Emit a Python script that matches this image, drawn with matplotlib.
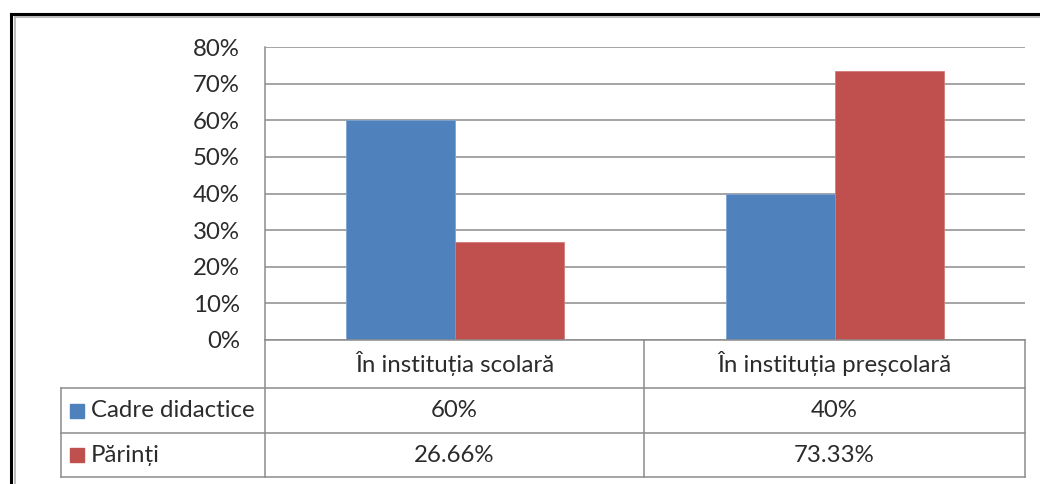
import matplotlib.pyplot as plt
import numpy as np
from matplotlib.lines import Line2D

plt.rcParams['font.family'] = ['Lato', 'DejaVu Sans']

categories = ["În instituția scolară", "În instituția preșcolară"]
series_names = ["Cadre didactice", "Părinți"]
cadre = [60, 40]
parinti = [26.66, 73.33]
cadre_labels = ["60%", "40%"]
parinti_labels = ["26.66%", "73.33%"]
y_ticks = [0, 10, 20, 30, 40, 50, 60, 70, 80]

blue = '#4F81BD'
red = '#C0504D'
grid = '#8c8c8c'
txt = '#2b2b2b'
fs = 17.3

W, H = 1040, 484
fig = plt.figure(figsize=(W / 100, H / 100), dpi=100)

# pixel helpers
def fx(px):
    return px / W

def fy(py):
    return 1 - py / H

x_left, x_right = 265, 1025
y_top, y_zero = 47, 340
ax = fig.add_axes([fx(x_left), fy(y_zero), fx(x_right) - fx(x_left), fy(y_top) - fy(y_zero)])

x = np.arange(len(categories))
bw = 1 / 3.5
ax.bar(x - bw / 2, cadre, bw, color=blue, edgecolor='#7da3d1', linewidth=0.6, zorder=3)
ax.bar(x + bw / 2, parinti, bw, color=red, edgecolor='#d27c79', linewidth=0.6, zorder=3)
ax.set_xlim(-0.5, len(categories) - 0.5)
ax.set_ylim(0, 80)
ax.set_yticks(y_ticks)
ax.set_yticklabels([f"{v}%" for v in y_ticks], fontsize=fs, color=txt)
ax.tick_params(axis='y', length=0, pad=18)
ax.set_xticks([])
ax.grid(axis='y', color=grid, linewidth=1.1, zorder=0)
for s in ['top', 'right', 'bottom']:
    ax.spines[s].set_visible(False)
ax.spines['left'].set_color(grid)
ax.spines['left'].set_linewidth(1.1)

# overlay in pixel coordinates for the data table and frame
ov = fig.add_axes([0, 0, 1, 1], zorder=5)
ov.set_xlim(0, W)
ov.set_ylim(H, 0)
ov.axis('off')

lw = 1.1
rows = [340, 388, 433, 477]
cols = [61, 265, 644, 1025]
ov.plot([cols[1], cols[3]], [rows[0], rows[0]], color=grid, lw=lw)
for r in rows[1:]:
    ov.plot([cols[0], cols[3]], [r, r], color=grid, lw=lw)
ov.plot([cols[0], cols[0]], [rows[1], rows[3]], color=grid, lw=lw)
ov.plot([cols[1], cols[1]], [rows[0], rows[3]], color=grid, lw=lw)
ov.plot([cols[2], cols[2]], [rows[0], rows[3]], color=grid, lw=lw)
ov.plot([cols[3], cols[3]], [rows[0], rows[3]], color=grid, lw=lw)

for i, cat in enumerate(categories):
    cx = (cols[i + 1] + cols[i + 2]) / 2
    ov.text(cx, (rows[0] + rows[1]) / 2, cat, ha='center', va='center', fontsize=fs, color=txt)
    ov.text(cx, (rows[1] + rows[2]) / 2, cadre_labels[i], ha='center', va='center', fontsize=fs, color=txt)
    ov.text(cx, (rows[2] + rows[3]) / 2, parinti_labels[i], ha='center', va='center', fontsize=fs, color=txt)

for j, (name, col) in enumerate(zip(series_names, [blue, red])):
    cy = (rows[j + 1] + rows[j + 2]) / 2
    ov.add_patch(plt.Rectangle((70, cy - 7), 14, 14, color=col))
    ov.text(91, cy, name, ha='left', va='center', fontsize=fs, color=txt)

# frame of the picture
ov.add_line(Line2D([11, 11], [14, H], color='black', lw=2.2))
ov.add_line(Line2D([11, W], [14, 14], color='black', lw=2.2))
ov.add_line(Line2D([15, 15], [17, H], color='#b0b0b0', lw=1.2))
ov.add_line(Line2D([15, W], [17, 17], color='#b0b0b0', lw=1.2))

fig.savefig("out.png", dpi=100)
